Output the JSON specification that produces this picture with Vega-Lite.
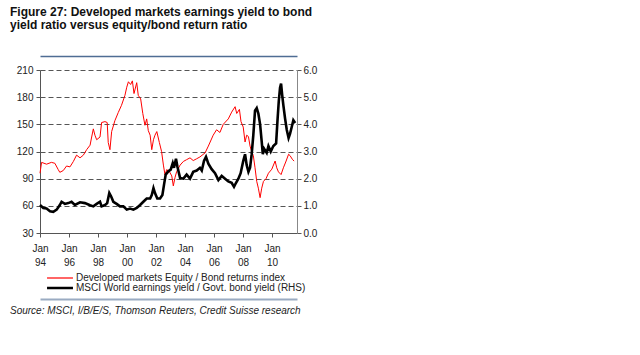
{
  "$schema": "https://vega.github.io/schema/vega-lite/v6.json",
  "width": 257,
  "height": 163,
  "autosize": {"type": "none"},
  "padding": {"left": 40, "top": 70, "right": 343, "bottom": 122},
  "background": "white",
  "config": {
    "font": "Liberation Sans",
    "view": {"stroke": null},
    "axis": {"labelFont": "Liberation Sans", "labelFontSize": 10, "labelColor": "#222", "domainColor": "#555", "tickColor": "#555", "tickSize": 4}
  },
  "title": {
    "text": ["Figure 27: Developed markets earnings yield to bond", "yield ratio versus equity/bond return ratio"],
    "anchor": "start",
    "frame": "group",
    "dx": -30,
    "offset": 24,
    "font": "Liberation Sans",
    "fontSize": 12,
    "fontWeight": "bold",
    "color": "#111",
    "lineHeight": 13.5
  },
  "datasets": {
    "red": [
      {"d": "1994-01-01", "v": 96}, {"d": "1994-02-10", "v": 108}, {"d": "1994-06-15", "v": 106}, {"d": "1994-10-15", "v": 108},
      {"d": "1995-01-10", "v": 107}, {"d": "1995-04-05", "v": 100}, {"d": "1995-05-15", "v": 97}, {"d": "1995-08-10", "v": 99},
      {"d": "1995-11-01", "v": 104}, {"d": "1996-01-25", "v": 103}, {"d": "1996-04-20", "v": 109}, {"d": "1996-07-10", "v": 116},
      {"d": "1996-10-05", "v": 113}, {"d": "1996-12-28", "v": 116}, {"d": "1997-03-20", "v": 122}, {"d": "1997-06-15", "v": 127},
      {"d": "1997-07-25", "v": 136}, {"d": "1997-09-05", "v": 145}, {"d": "1997-10-15", "v": 138}, {"d": "1997-11-28", "v": 133},
      {"d": "1998-02-20", "v": 136}, {"d": "1998-04-01", "v": 152}, {"d": "1998-06-25", "v": 153}, {"d": "1998-08-20", "v": 152},
      {"d": "1998-09-15", "v": 130}, {"d": "1998-10-28", "v": 122}, {"d": "1998-12-10", "v": 142}, {"d": "1999-03-01", "v": 154},
      {"d": "1999-05-25", "v": 163}, {"d": "1999-08-15", "v": 171}, {"d": "1999-11-10", "v": 182}, {"d": "1999-12-25", "v": 191},
      {"d": "2000-02-05", "v": 197}, {"d": "2000-04-01", "v": 194}, {"d": "2000-05-15", "v": 198}, {"d": "2000-06-25", "v": 184},
      {"d": "2000-09-01", "v": 196}, {"d": "2000-10-10", "v": 182}, {"d": "2000-12-10", "v": 178}, {"d": "2001-02-01", "v": 162},
      {"d": "2001-03-28", "v": 149}, {"d": "2001-05-10", "v": 156}, {"d": "2001-06-20", "v": 143}, {"d": "2001-08-05", "v": 138},
      {"d": "2001-09-15", "v": 122}, {"d": "2001-10-28", "v": 133}, {"d": "2001-12-05", "v": 138}, {"d": "2002-01-20", "v": 142},
      {"d": "2002-03-25", "v": 130}, {"d": "2002-05-20", "v": 120}, {"d": "2002-07-05", "v": 105}, {"d": "2002-08-15", "v": 94},
      {"d": "2002-09-25", "v": 100}, {"d": "2002-12-01", "v": 98}, {"d": "2003-02-01", "v": 93}, {"d": "2003-03-12", "v": 82},
      {"d": "2003-04-22", "v": 91}, {"d": "2003-06-05", "v": 98}, {"d": "2003-08-30", "v": 105}, {"d": "2003-11-20", "v": 109},
      {"d": "2004-02-10", "v": 111}, {"d": "2004-05-05", "v": 113}, {"d": "2004-07-25", "v": 110}, {"d": "2004-10-20", "v": 112},
      {"d": "2005-01-10", "v": 114}, {"d": "2005-05-20", "v": 118.5}, {"d": "2005-08-10", "v": 126}, {"d": "2005-12-10", "v": 138},
      {"d": "2006-03-05", "v": 144}, {"d": "2006-05-28", "v": 141}, {"d": "2006-08-20", "v": 150}, {"d": "2006-12-25", "v": 156},
      {"d": "2007-03-20", "v": 163.5}, {"d": "2007-06-15", "v": 169.5}, {"d": "2007-07-25", "v": 162}, {"d": "2007-10-01", "v": 166.5},
      {"d": "2007-11-10", "v": 153}, {"d": "2008-01-05", "v": 147}, {"d": "2008-02-20", "v": 130.5}, {"d": "2008-04-01", "v": 138},
      {"d": "2008-05-15", "v": 136.5}, {"d": "2008-06-25", "v": 126}, {"d": "2008-08-05", "v": 120}, {"d": "2008-09-15", "v": 115.5},
      {"d": "2008-10-28", "v": 102}, {"d": "2008-12-10", "v": 87}, {"d": "2009-01-20", "v": 79.5}, {"d": "2009-03-05", "v": 69},
      {"d": "2009-04-15", "v": 79.5}, {"d": "2009-05-28", "v": 87}, {"d": "2009-08-01", "v": 90}, {"d": "2009-10-01", "v": 96},
      {"d": "2009-12-25", "v": 100.5}, {"d": "2010-03-18", "v": 109.5}, {"d": "2010-04-28", "v": 102}, {"d": "2010-06-10", "v": 97.5},
      {"d": "2010-08-15", "v": 94.5}, {"d": "2010-10-12", "v": 102}, {"d": "2010-12-20", "v": 109.5}, {"d": "2011-02-20", "v": 117},
      {"d": "2011-03-28", "v": 115.5}, {"d": "2011-06-01", "v": 111}, {"d": "2011-07-10", "v": 109.5}
    ],
    "black": [
      {"d": "1994-01-01", "v": 1.03}, {"d": "1994-03-25", "v": 0.92}, {"d": "1994-06-15", "v": 0.9}, {"d": "1994-09-10", "v": 0.8},
      {"d": "1994-12-01", "v": 0.78}, {"d": "1995-02-25", "v": 0.86}, {"d": "1995-05-15", "v": 1.03}, {"d": "1995-06-28", "v": 1.15},
      {"d": "1995-09-20", "v": 1.07}, {"d": "1995-12-15", "v": 1.1}, {"d": "1996-03-05", "v": 1.15}, {"d": "1996-05-28", "v": 1.03},
      {"d": "1996-10-05", "v": 1.13}, {"d": "1997-02-05", "v": 1.1}, {"d": "1997-06-15", "v": 1.02}, {"d": "1997-09-05", "v": 0.98},
      {"d": "1997-11-28", "v": 1.07}, {"d": "1998-02-20", "v": 1.15}, {"d": "1998-04-01", "v": 0.98}, {"d": "1998-06-25", "v": 1.03},
      {"d": "1998-08-20", "v": 1.1}, {"d": "1998-10-12", "v": 1.47}, {"d": "1998-11-25", "v": 1.35}, {"d": "1999-01-22", "v": 1.15},
      {"d": "1999-04-15", "v": 1.07}, {"d": "1999-07-08", "v": 0.98}, {"d": "1999-10-01", "v": 0.98}, {"d": "1999-12-25", "v": 0.86},
      {"d": "2000-03-18", "v": 0.9}, {"d": "2000-06-10", "v": 0.86}, {"d": "2000-09-01", "v": 0.92}, {"d": "2000-11-25", "v": 1.03},
      {"d": "2001-02-15", "v": 1.15}, {"d": "2001-05-10", "v": 1.27}, {"d": "2001-08-05", "v": 1.27}, {"d": "2001-09-15", "v": 1.4},
      {"d": "2001-10-28", "v": 1.65}, {"d": "2001-12-05", "v": 1.47}, {"d": "2002-02-01", "v": 1.27}, {"d": "2002-04-12", "v": 1.27},
      {"d": "2002-06-10", "v": 1.4}, {"d": "2002-07-20", "v": 1.77}, {"d": "2002-09-01", "v": 2.15}, {"d": "2002-11-05", "v": 2.27},
      {"d": "2003-01-05", "v": 2.33}, {"d": "2003-02-25", "v": 2.57}, {"d": "2003-03-28", "v": 2.4}, {"d": "2003-05-18", "v": 2.73},
      {"d": "2003-06-22", "v": 2.45}, {"d": "2003-08-30", "v": 2.02}, {"d": "2003-11-20", "v": 2.0}, {"d": "2004-02-10", "v": 2.15},
      {"d": "2004-05-05", "v": 2.0}, {"d": "2004-07-25", "v": 2.25}, {"d": "2004-10-20", "v": 2.3}, {"d": "2005-01-10", "v": 2.4},
      {"d": "2005-02-25", "v": 2.3}, {"d": "2005-04-22", "v": 2.65}, {"d": "2005-06-12", "v": 2.8}, {"d": "2005-08-10", "v": 2.55},
      {"d": "2005-11-01", "v": 2.35}, {"d": "2006-01-25", "v": 2.2}, {"d": "2006-04-20", "v": 1.95}, {"d": "2006-07-12", "v": 2.1},
      {"d": "2006-10-05", "v": 2.0}, {"d": "2006-12-25", "v": 1.9}, {"d": "2007-03-20", "v": 1.85}, {"d": "2007-05-18", "v": 1.7},
      {"d": "2007-07-08", "v": 1.85}, {"d": "2007-09-05", "v": 2.0}, {"d": "2007-11-01", "v": 2.2}, {"d": "2008-01-05", "v": 2.65},
      {"d": "2008-02-20", "v": 2.9}, {"d": "2008-04-01", "v": 2.5}, {"d": "2008-05-15", "v": 2.25}, {"d": "2008-06-25", "v": 2.4},
      {"d": "2008-08-05", "v": 2.9}, {"d": "2008-09-15", "v": 3.6}, {"d": "2008-10-28", "v": 4.5}, {"d": "2008-12-10", "v": 4.6},
      {"d": "2009-01-20", "v": 4.4}, {"d": "2009-03-05", "v": 4.0}, {"d": "2009-04-15", "v": 3.35}, {"d": "2009-05-12", "v": 2.9},
      {"d": "2009-06-15", "v": 3.1}, {"d": "2009-08-18", "v": 2.95}, {"d": "2009-10-01", "v": 3.2}, {"d": "2009-11-28", "v": 3.0},
      {"d": "2010-02-01", "v": 3.2}, {"d": "2010-04-12", "v": 3.3}, {"d": "2010-05-15", "v": 4.1}, {"d": "2010-06-18", "v": 4.85},
      {"d": "2010-07-20", "v": 5.35}, {"d": "2010-08-15", "v": 5.5}, {"d": "2010-09-10", "v": 5.1}, {"d": "2010-10-12", "v": 4.7},
      {"d": "2010-11-25", "v": 4.2}, {"d": "2011-01-05", "v": 3.8}, {"d": "2011-02-20", "v": 3.5}, {"d": "2011-03-28", "v": 3.65},
      {"d": "2011-05-10", "v": 3.9}, {"d": "2011-06-20", "v": 4.15}, {"d": "2011-08-05", "v": 4.05}
    ]
  },
  "layer": [
    {
      "data": {"name": "red"},
      "mark": {"type": "line", "strokeWidth": 1, "interpolate": "linear"},
      "encoding": {
        "x": {
          "field": "d",
          "type": "temporal",
          "scale": {"type": "utc", "domain": [{"year": 1994, "month": 1, "date": 1, "utc": true}, {"year": 2011, "month": 9, "date": 20, "utc": true}]},
          "axis": {
            "title": null,
            "grid": false,
            "tickCount": {"interval": "year", "step": 2},
            "labelExpr": "['Jan', utcFormat(datum.value, '%y')]",
            "labelLineHeight": 14,
            "labelPadding": 6,
            "labelFlush": false,
            "labelOverlap": false,
            "domainColor": "#555"
          }
        },
        "y": {
          "field": "v",
          "type": "quantitative",
          "scale": {"domain": [30, 210], "nice": false, "zero": false},
          "axis": {
            "title": null,
            "orient": "left",
            "values": [30, 60, 90, 120, 150, 180, 210],
            "grid": true,
            "gridDash": [5, 3],
            "gridColor": "#555",
            "gridWidth": 1,
            "labelPadding": 3
          }
        },
        "color": {
          "datum": "Developed markets Equity / Bond returns index",
          "type": "nominal",
          "scale": {
            "domain": ["Developed markets Equity / Bond returns index", "MSCI World earnings yield / Govt. bond yield (RHS)"],
            "range": ["#ff0000", "#000000"]
          },
          "legend": {
            "title": "Source: MSCI, I/B/E/S, Thomson Reuters, Credit Suisse research",
            "titleOrient": "bottom",
            "titleFont": "Liberation Sans",
            "titleFontSize": 10,
            "titleFontWeight": "normal",
            "titleFontStyle": "italic",
            "titleColor": "#222",
            "titleLimit": 500,
            "titlePadding": 13,
            "orient": "none",
            "legendX": -30,
            "legendY": 203,
            "symbolType": "M-4,0H4",
            "symbolSize": 42,
            "symbolOffset": 45,
            "labelOffset": 11,
            "labelFont": "Liberation Sans",
            "labelFontSize": 10,
            "labelColor": "#222",
            "labelLimit": 500,
            "rowPadding": 0,
            "encode": {
              "symbols": {"update": {"strokeWidth": {"signal": "datum.value === 'Developed markets Equity / Bond returns index' ? 1.2 : 2.5"}}}
            }
          }
        }
      }
    },
    {
      "data": {"name": "black"},
      "mark": {"type": "line", "strokeWidth": 2.6, "interpolate": "linear"},
      "encoding": {
        "x": {
          "field": "d",
          "type": "temporal",
          "axis": {"orient": "top", "offset": 14, "title": null, "labels": false, "ticks": false, "grid": false, "domainColor": "#4f6d94", "domainWidth": 1.5}
        },
        "y": {
          "field": "v",
          "type": "quantitative",
          "scale": {"domain": [0, 6], "nice": false},
          "axis": {
            "title": null,
            "orient": "right",
            "values": [0, 1, 2, 3, 4, 5, 6],
            "format": ".1f",
            "grid": false,
            "labelPadding": 2,
            "domainColor": "#888"
          }
        },
        "color": {"datum": "MSCI World earnings yield / Govt. bond yield (RHS)", "type": "nominal"}
      }
    },
    {
      "data": {"name": "red"},
      "mark": {"type": "rule", "opacity": 0},
      "encoding": {
        "x": {
          "field": "d",
          "type": "temporal",
          "axis": {"orient": "bottom", "offset": 66, "title": null, "labels": false, "ticks": false, "grid": false, "domainColor": "#9aabc2", "domainWidth": 2}
        }
      }
    }
  ],
  "resolve": {"scale": {"y": "independent"}, "axis": {"x": "independent"}}
}
